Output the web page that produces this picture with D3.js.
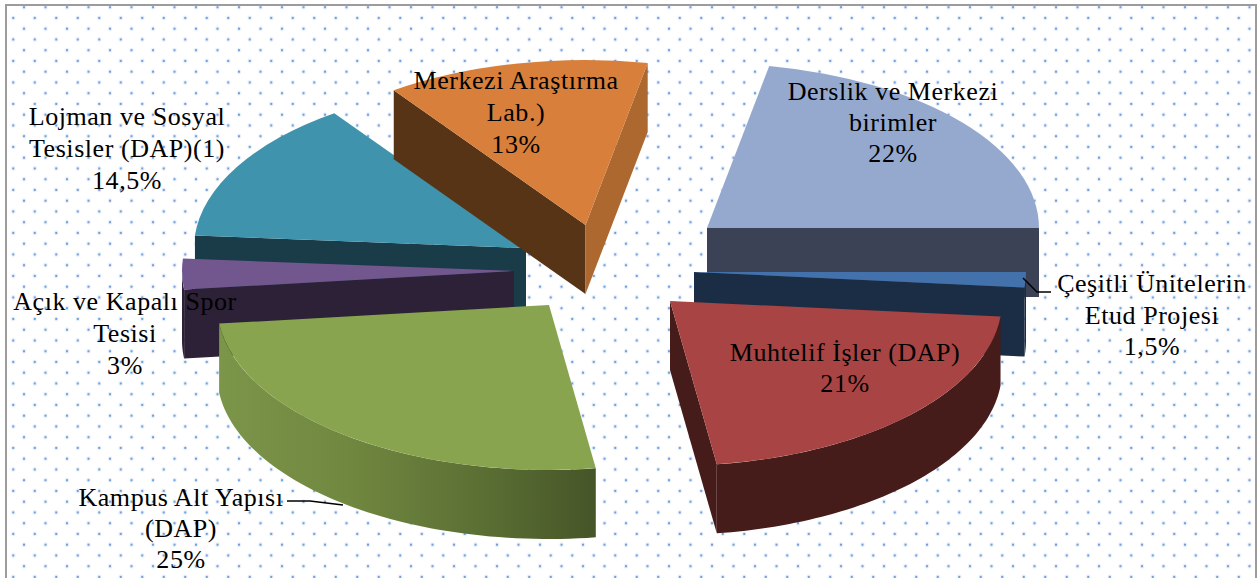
<!DOCTYPE html>
<html><head><meta charset="utf-8">
<script src="https://cdn.jsdelivr.net/npm/d3@7"></script>
<style>html,body{margin:0;padding:0;background:#fff;overflow:hidden}svg{display:block}
text{font-family:"Liberation Serif",serif;fill:#000;text-anchor:middle;letter-spacing:.55px}</style>
</head><body><svg id="c" width="1259" height="578"></svg>
<script>
// ---- data ----
const categories = ["Derslik ve Merkezi birimler","Çeşitli Ünitelerin Etud Projesi","Muhtelif İşler (DAP)","Kampus Alt Yapısı (DAP)","Açık ve Kapalı Spor Tesisi","Lojman ve Sosyal Tesisler (DAP)(1)","Merkezi Araştırma Lab.)"];
const sliceShares = [22, 1.5, 21.25, 25.45, 3, 14, 12.8];
const printedPercents = ["22%","1,5%","21%","25%","3%","14,5%","13%"];
const labelLines = [["Derslik ve Merkezi","birimler"],["Çeşitli Ünitelerin","Etud Projesi"],["Muhtelif İşler (DAP)"],["Kampus Alt Yapısı","(DAP)"],["Açık ve Kapalı Spor","Tesisi"],["Lojman ve Sosyal","Tesisler (DAP)(1)"],["Merkezi Araştırma","Lab.)"]];

// ---- styles ----
const topColors   = ["#95a9cf","#4271ab","#a84443","#88a44e","#72578f","#3f93ac","#d77f3b"];
const startWalls  = ["#3b4255","#1a2d44","#451c1a","#47562a","#2d2137","#1a3c48","#583416"];
const endWalls    = ["#3b4255","#1a2d44","#451c1a","#47562a","#2d2137","#1a3c48","#ac682e"];
const rimFills    = ["#3b4255","#1a2d44","#461c1a","url(#greenRim)","#2d2137","#1a3c48","#583416"];
// ---- layout ----
const W=1259,H=578, cx=600, cy=270, rx=332, ry=165, depth=69, startDeg=10.8;
const explodeX=[107,94,70,-51,-86,-74,-14.5], explodeY=[-42,2,31,35,1,-22,-45];
const drawOrder=[5,6,4,3,0,1,2];
const labelX=[893,1152,845,181,125,127,516], labelY=[100,292,361,506,310,125,89];
const lineStep=[31,31.5,31,31,32,32,32];
const fontSize=26;

const svg=d3.select("#c"), defs=svg.append("defs");
const pat=defs.append("pattern").attr("id","dots").attr("patternUnits","userSpaceOnUse")
  .attr("x",2.5).attr("y",18).attr("width",21.5).attr("height",21.5);
[[10.75,0],[0,10.75],[21.5,10.75],[10.75,21.5]].forEach(([x,y])=>{
  pat.append("circle").attr("cx",x).attr("cy",y).attr("r",2.4).attr("fill","#7aa6de").attr("opacity",.16);
  pat.append("circle").attr("cx",x).attr("cy",y).attr("r",1.1).attr("fill","#6a9ad8");
});
const g=defs.append("linearGradient").attr("id","greenRim").attr("gradientUnits","userSpaceOnUse")
  .attr("x1",220).attr("x2",595).attr("y1",0).attr("y2",0);
[[0,"#7b9549"],[.35,"#70873f"],[.7,"#5b6f34"],[1,"#465528"]].forEach(([o,c])=>g.append("stop").attr("offset",o).attr("stop-color",c));

svg.append("rect").attr("width",W).attr("height",H).attr("fill","#fff");
svg.append("rect").attr("x",6).attr("y",5).attr("width",1250).attr("height",H+20)
  .attr("fill","url(#dots)").attr("stroke","#9c9c9c").attr("stroke-width",2);

const rad=d=>d*Math.PI/180;
const arcs=d3.pie().sort(null).value(d=>d).startAngle(rad(startDeg)).endAngle(rad(startDeg+360))(sliceShares);
const topArc=d3.arc().innerRadius(0).outerRadius(rx);
const line=d3.line();
const pt=(i,a,dz=0)=>[cx+explodeX[i]+rx*Math.sin(a), cy+explodeY[i]-ry*Math.cos(a)+dz];
const apex=(i,dz=0)=>[cx+explodeX[i], cy+explodeY[i]+dz];

drawOrder.forEach(i=>{
  const a=arcs[i], gs=svg.append("g").attr("class","slice");
  const s=a.startAngle, e=a.endAngle;
  const wall=(ang,col)=>gs.append("path").attr("d",line([apex(i),pt(i,ang),pt(i,ang,depth),apex(i,depth)])+"Z").attr("fill",col);
  if(Math.cos(s-Math.PI/2)<0) wall(s,startWalls[i]);
  if(Math.cos(e+Math.PI/2)<0) wall(e,endWalls[i]);
  const r0=Math.max(s,Math.PI/2), r1=Math.min(e,3*Math.PI/2);
  if(r1>r0){
    const as=d3.range(0,61).map(k=>r0+(r1-r0)*k/60);
    const pts=as.map(x=>pt(i,x)).concat(as.slice().reverse().map(x=>pt(i,x,depth)));
    gs.append("path").attr("d",line(pts)+"Z").attr("fill",rimFills[i]);
  }
  gs.append("path").attr("d",topArc({startAngle:s,endAngle:e}))
    .attr("transform",`translate(${apex(i)}) scale(1,${ry/rx})`).attr("fill",topColors[i]);
});

// leader lines
const leaders=[[[1023,278],[1037,292],[1051,292]],[[287,501],[310,501],[343,505]]];
leaders.forEach(l=>svg.append("path").attr("d",line(l)).attr("fill","none").attr("stroke","#000").attr("stroke-width",1.5));

// labels
categories.forEach((c,i)=>{
  const lines=labelLines[i].concat(printedPercents[i]);
  const t=svg.append("text").attr("font-size",fontSize).attr("data-category",c);
  lines.forEach((s,k)=>t.append("tspan").attr("x",labelX[i]).attr("y",labelY[i]+k*lineStep[i]).text(s));
});
</script></body></html>
